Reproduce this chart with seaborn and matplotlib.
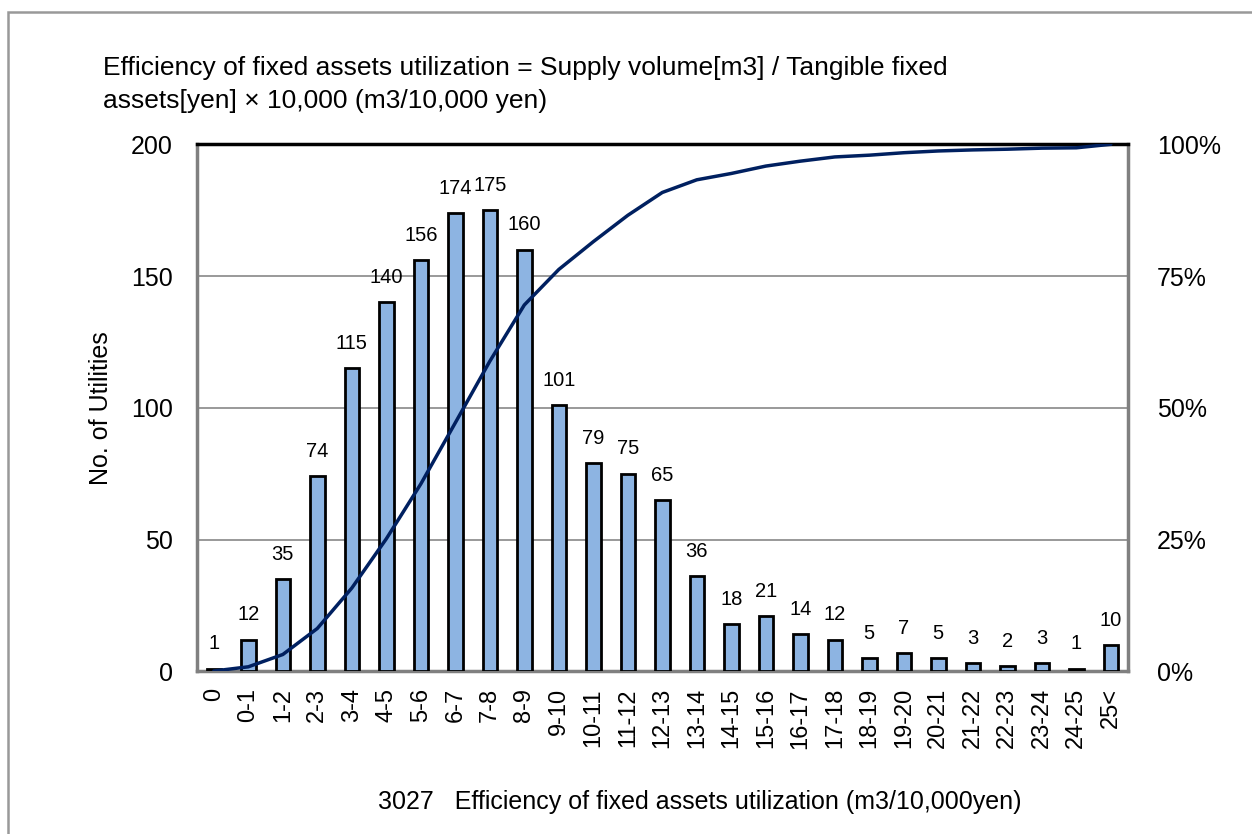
import numpy as np
import pandas as pd
import matplotlib
matplotlib.use("Agg")
import matplotlib.pyplot as plt
import seaborn as sns
from matplotlib.patches import Rectangle

categories = ["0", "0-1", "1-2", "2-3", "3-4", "4-5", "5-6", "6-7", "7-8", "8-9",
              "9-10", "10-11", "11-12", "12-13", "13-14", "14-15", "15-16", "16-17",
              "17-18", "18-19", "19-20", "20-21", "21-22", "22-23", "23-24", "24-25", "25<"]
counts = [1, 12, 35, 74, 115, 140, 156, 174, 175, 160, 101, 79, 75, 65, 36, 18, 21, 14,
          12, 5, 7, 5, 3, 2, 3, 1, 10]
y_ticks = [0, 50, 100, 150, 200]
pct_ticks = [0, 25, 50, 75, 100]
title = "Efficiency of fixed assets utilization = Supply volume[m3] / Tangible fixed\nassets[yen] \u00d7 10,000 (m3/10,000 yen)"
xlabel = "3027   Efficiency of fixed assets utilization (m3/10,000yen)"
ylabel = "No. of Utilities"

sns.set_style("white")
plt.rcParams['font.family'] = ['Liberation Sans', 'DejaVu Sans']
plt.rcParams['text.color'] = 'black'
plt.rcParams['axes.labelcolor'] = 'black'
plt.rcParams['xtick.color'] = 'black'
plt.rcParams['ytick.color'] = 'black'

df = pd.DataFrame({"cat": categories, "n": counts})
cum = np.cumsum(counts) / np.sum(counts) * 100

fig = plt.figure(figsize=(12.52, 8.34), dpi=100)
ax = fig.add_axes([0.157, 0.195, 0.744, 0.632])

sns.barplot(data=df, x="cat", y="n", ax=ax, color="#8DB4E2", width=0.42,
            edgecolor="black", linewidth=2, saturation=1, zorder=3)
ax.set_ylim(0, 200)
ax.set_xlim(-0.5, len(categories) - 0.5)
ax.set_yticks(y_ticks)
ax.tick_params(axis='y', labelsize=18, length=0, pad=17)
ax.tick_params(axis='x', labelsize=17, length=0, rotation=90, pad=12)
ax.grid(axis='y', color='#888888', linewidth=1.2, zorder=0)
ax.set_axisbelow(True)
ax.set_xlabel(xlabel, fontsize=18, labelpad=28)
ax.xaxis.set_label_coords(0.54, -0.226)
ax.set_ylabel(ylabel, fontsize=18, labelpad=13)
for s in ["left", "bottom", "right"]:
    ax.spines[s].set_color("#808080")
    ax.spines[s].set_linewidth(2.5)
ax.spines["top"].set_color("black")
ax.spines["top"].set_linewidth(2.5)

for i, v in enumerate(counts):
    ax.annotate(str(v), (i, v), xytext=(0, 11), textcoords="offset points",
                ha="center", va="bottom", fontsize=14.5)

ax2 = ax.twinx()
sns.lineplot(x=np.arange(len(categories)), y=cum, ax=ax2, color="#002060",
             linewidth=2.5, zorder=4)
ax2.set_ylim(0, 100)
ax2.set_yticks(pct_ticks)
ax2.set_yticklabels([f"{t}%" for t in pct_ticks])
ax2.tick_params(axis='y', labelsize=18, length=0, pad=21)
ax2.set_ylabel("")
for s in ax2.spines.values():
    s.set_visible(False)

fig.text(0.082, 0.899, title, fontsize=19, ha="left", va="center", linespacing=1.45)

fig.patches.append(Rectangle((0.0065, -0.1), 1.5, 1.0855, transform=fig.transFigure,
                             fill=False, edgecolor="#999999", linewidth=1.8))

fig.savefig("out.png", dpi=100)
